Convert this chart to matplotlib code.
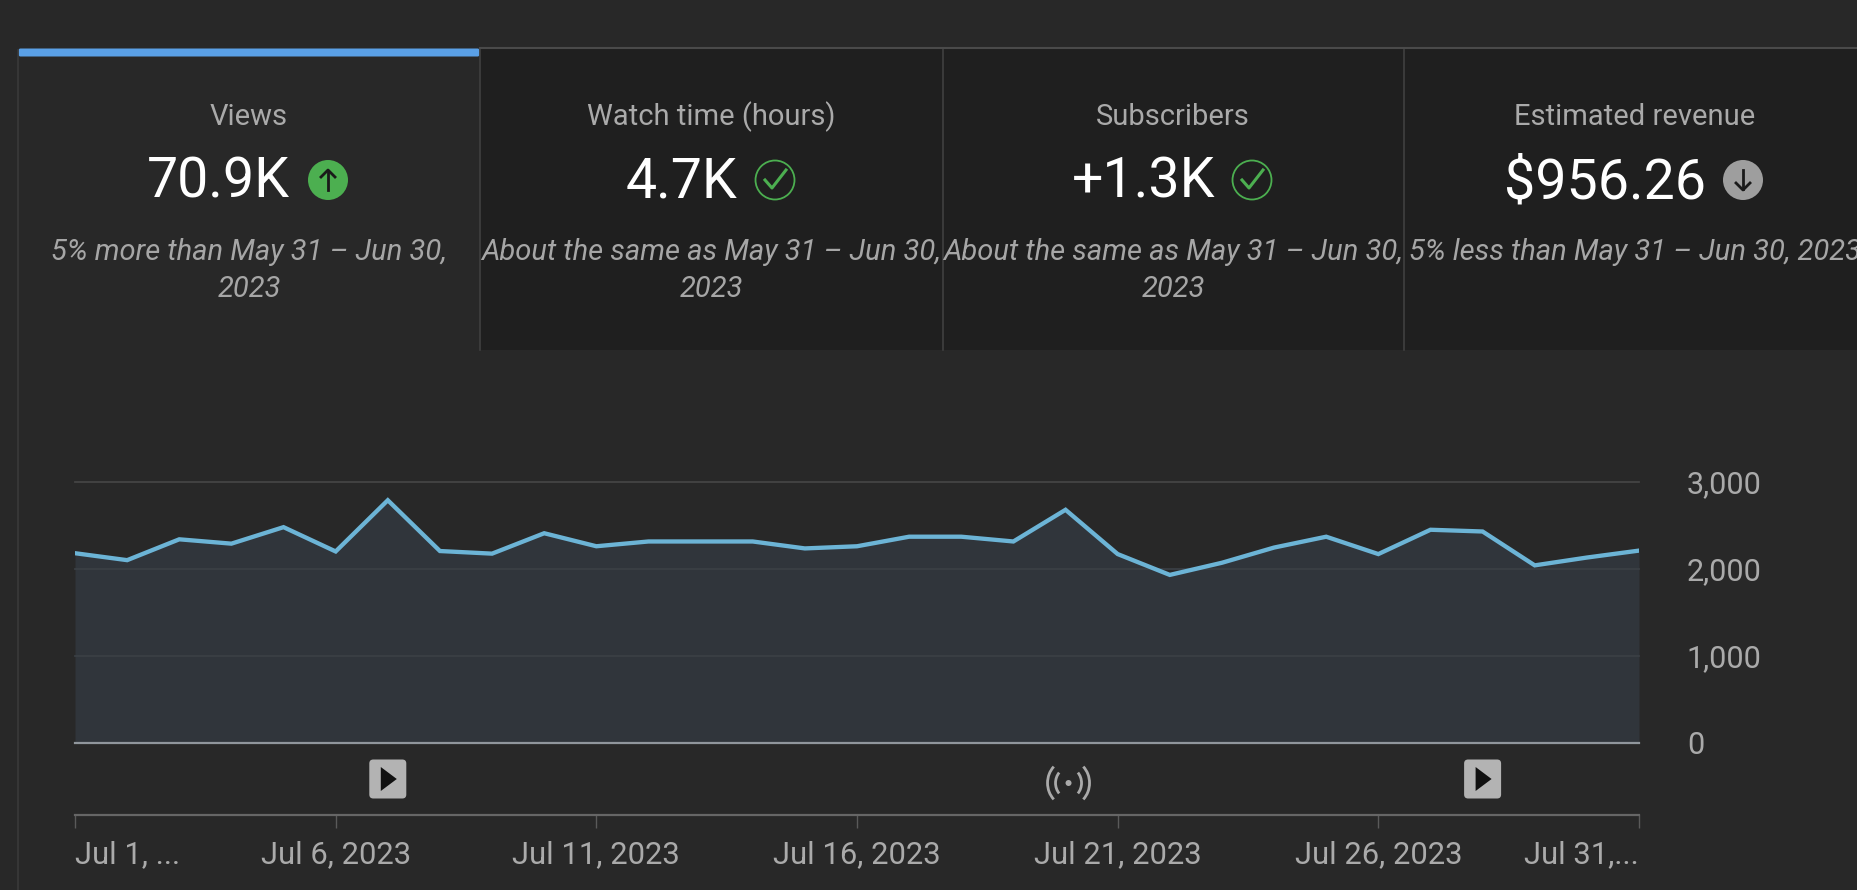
import matplotlib
matplotlib.use("Agg")
import matplotlib.pyplot as plt
from matplotlib.patches import Rectangle, Circle, FancyBboxPatch, Polygon, Arc

plt.rcParams['font.family'] = ['Roboto', 'DejaVu Sans']

# data
days = list(range(1, 32))
views = [2180, 2100, 2340, 2290, 2480, 2200, 2790, 2205, 2175, 2410, 2260, 2315, 2315, 2315, 2235, 2260,
         2370, 2370, 2315, 2680, 2170, 1930, 2070, 2245, 2370, 2170, 2450, 2430, 2040, 2130, 2210]
y_ticks = [0, 1000, 2000, 3000]
x_ticks = [1, 6, 11, 16, 21, 26, 31]
x_labels = ["Jul 1, ...", "Jul 6, 2023", "Jul 11, 2023", "Jul 16, 2023", "Jul 21, 2023", "Jul 26, 2023", "Jul 31,..."]
play_days = [7, 28]
live_days = [20]

card_titles = ["Views", "Watch time (hours)", "Subscribers", "Estimated revenue"]
card_values = ["70.9K", "4.7K", "+1.3K", "$956.26"]
card_notes = ["5% more than May 31 – Jun 30,\n2023",
              "About the same as May 31 – Jun 30,\n2023",
              "About the same as May 31 – Jun 30,\n2023",
              "5% less than May 31 – Jun 30, 2023"]
card_status = ["up", "ok", "ok", "down"]

W, H = 1857, 890
BG = "#282828"
CARD = "#1f1f1f"
card_edges = [18, 480, 943, 1404, 1880]
card_centers = [249, 711, 1173, 1635]
value_right = [290, 737, 1215, 1706]
icon_x = [328, 775, 1252, 1743]

fig = plt.figure(figsize=(W / 100, H / 100), dpi=100, facecolor=BG)

# full figure overlay in pixel coordinates, for the cards and icons
bg = fig.add_axes([0, 0, 1, 1])
bg.set_xlim(0, W)
bg.set_ylim(H, 0)
bg.axis("off")

bg.plot([18, 18], [50, H], color="#3a3a3a", lw=1.2)
for i in range(1, 4):
    bg.add_patch(Rectangle((card_edges[i], 48), card_edges[i + 1] - card_edges[i], 302, color=CARD, lw=0))
    bg.plot([card_edges[i]] * 2, [48, 350], color="#404040", lw=1.2)
bg.plot([480, W], [48, 48], color="#4a4a4a", lw=1.5)
bg.add_patch(FancyBboxPatch((20, 50), 458, 5, boxstyle="round,pad=1.5,rounding_size=2", color="#5aa0e6", lw=0))

for i in range(4):
    bg.text(card_centers[i], 125, card_titles[i], color="#aaaaaa", fontsize=21, ha="center", va="baseline")
    bg.text(value_right[i], 198, card_values[i], color="#ffffff", fontsize=40, ha="right", va="baseline")
    lines = card_notes[i].split("\n")
    for j, line in enumerate(lines):
        bg.text(card_centers[i], 260 + j * 37, line, color="#a6a6a6", fontsize=21, style="italic",
                ha="center", va="baseline", clip_on=True)
    x = icon_x[i]
    if card_status[i] == "ok":
        bg.add_patch(Circle((x, 180), 19.5, fill=False, ec="#4caf50", lw=1.3))
        bg.plot([x - 10, x - 3, x + 11], [180, 188, 170], color="#4caf50", lw=2.2)
    else:
        col = "#4caf50" if card_status[i] == "up" else "#9e9e9e"
        bg.add_patch(Circle((x, 180), 20, color=col, lw=0))
        d = -1 if card_status[i] == "up" else 1
        bg.plot([x, x], [180 - 10 * d, 180 + 9 * d], color="#1a1a1a", lw=2)
        bg.plot([x - 7, x, x + 7], [180 + 3 * d, 180 + 10 * d, 180 + 3 * d], color="#1a1a1a", lw=2)

# main chart
x0, x1 = 75, 1639
y_top, y_zero = 482, 742.5
ax = fig.add_axes([x0 / W, 1 - y_zero / H, (x1 - x0) / W, (y_zero - y_top) / H])
ax.patch.set_alpha(0)
ax.set_xlim(1, 31)
ax.set_ylim(0, 3000)

ax.fill_between(days, views, 0, color="#30353b", lw=0, zorder=1)
for v in y_ticks[1:]:
    ax.axhline(v, color="#444444" if v == 3000 else "#3a3f44", lw=1.3, zorder=2, clip_on=False)
ax.plot(days, views, color="#6cb4d6", lw=3.1, solid_joinstyle="miter", zorder=3)
ax.axhline(0, color="#90969c", lw=1.6, zorder=3, clip_on=False)

for s in ["top", "left", "right"]:
    ax.spines[s].set_visible(False)
ax.spines["bottom"].set_position(("outward", 72 * 0.72))
ax.spines["bottom"].set_color("#666666")
ax.spines["bottom"].set_linewidth(1.6)

ax.yaxis.tick_right()
ax.set_yticks(y_ticks)
ax.set_yticklabels(["0", "1,000", "2,000", "3,000"])
ax.tick_params(axis="y", length=0, pad=34.5, labelcolor="#aaaaaa", labelsize=22)
ax.set_xticks(x_ticks)
ax.set_xticklabels(x_labels)
ax.tick_params(axis="x", length=9, width=1, color="#5a5a5a", pad=9.5, labelcolor="#aaaaaa", labelsize=22.3)
tick_texts = ax.get_xticklabels()
tick_texts[0].set_ha("left")
tick_texts[-1].set_ha("right")

# play and live markers under the chart
step = (x1 - x0) / 30
for d in play_days:
    px = x0 + (d - 1) * step
    bg.add_patch(FancyBboxPatch((px - 16, 762), 32, 34, boxstyle="round,pad=2.5,rounding_size=4", color="#b3b3b3", lw=0))
    bg.add_patch(Polygon([(px - 7, 767), (px - 7, 791), (px + 9, 779)], color="#111111", lw=0))
for d in live_days:
    px = x0 + (d - 1) * step + 3
    bg.add_patch(Circle((px, 783), 3, color="#aaaaaa", lw=0))
    for r, h in [(13, 30), (21, 46)]:
        bg.add_patch(Arc((px, 783), 2 * r, h, theta1=-48, theta2=48, color="#aaaaaa", lw=2))
        bg.add_patch(Arc((px, 783), 2 * r, h, theta1=132, theta2=228, color="#aaaaaa", lw=2))

fig.savefig("out.png", dpi=100, facecolor=BG)
